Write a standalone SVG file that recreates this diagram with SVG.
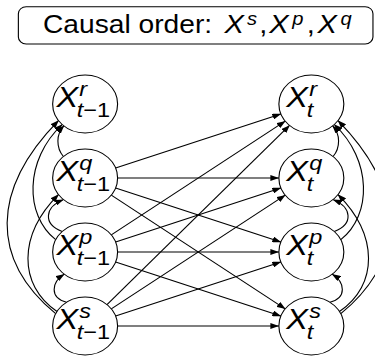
<svg xmlns="http://www.w3.org/2000/svg" width="375" height="358" viewBox="0 0 375 358">
<defs>
<marker id="ah" viewBox="0 0 8 6" refX="7.6" refY="3" markerWidth="8" markerHeight="6" markerUnits="userSpaceOnUse" orient="auto">
<path d="M0,0 L8,3 L0,6 z" fill="#000"/>
</marker>
<style>
.node circle { fill: #fff; stroke: #000; stroke-width: 1; }
.X { font-family: "Liberation Sans", Arial, sans-serif; font-style: italic; font-size: 29px; fill: #000; }
.s { font-family: "Liberation Sans", Arial, sans-serif; font-size: 21px; fill: #000; }
.i { font-style: italic; }
.edges path { fill: none; stroke: #000; stroke-width: 1; marker-end: url(#ah); }
.title { font-family: "Liberation Sans", Arial, sans-serif; font-size: 26px; fill: #000; }
.tsup { font-family: "Liberation Sans", Arial, sans-serif; font-size: 18px; font-style: italic; fill: #000; }
</style>
</defs>
<rect width="375" height="358" fill="#fff"/>
<g transform="scale(1.12,1)">
<g id="title">
<rect x="16.4" y="6.7" width="316.6" height="37.3" rx="7" ry="7" fill="#fff" stroke="#000" stroke-width="1"/>
<text class="title" x="38.4" y="33.5" textLength="151" lengthAdjust="spacingAndGlyphs">Causal order:</text>
<text class="title" x="200.5" y="33.5" font-style="italic">X</text>
<text class="tsup" x="220.5" y="25">s</text>
<text class="title" x="231.5" y="33.5">,</text>
<text class="title" x="240.5" y="33.5" font-style="italic">X</text>
<text class="tsup" x="261" y="25">p</text>
<text class="title" x="274" y="33.5">,</text>
<text class="title" x="283.5" y="33.5" font-style="italic">X</text>
<text class="tsup" x="304" y="25">q</text>
</g>
<g class="edges" id="connectors">
<path d="M103.23,168.03 L250.77,113.97"/>
<path d="M105,178 L249,178"/>
<path d="M103.23,187.97 L250.77,242.03"/>
<path d="M99.39,195.14 L254.61,308.86"/>
<path d="M99.39,234.86 L254.61,121.14"/>
<path d="M103.23,242.03 L250.77,187.97"/>
<path d="M105,252 L249,252"/>
<path d="M103.23,261.97 L250.77,316.03"/>
<path d="M95.52,304.55 L258.48,125.45"/>
<path d="M99.39,308.86 L254.61,195.14"/>
<path d="M103.23,316.03 L250.77,261.97"/>
<path d="M105,326 L249,326"/>
<path d="M56.6,156.5 C50,148 50,134 57,125.9"/>
<path d="M49.7,239.7 C21.8,215 21.8,160 55.5,124.5"/>
<path d="M49.7,313.7 C-8.5,260 -8.5,190 52.2,120.6"/>
<path d="M55.5,231.5 C38,224 40,207 56.6,199.6"/>
<path d="M50.9,311.5 C16.1,285 16.1,235 52.2,194.6"/>
<path d="M59.4,302.2 C44,298 46,282 57.4,274.2"/>
<path d="M297.4,156.5 C304,148 304,134 297,125.9"/>
<path d="M304.3,239.7 C332.2,215 332.2,160 298.5,124.5"/>
<path d="M304.3,313.7 C362.5,260 362.5,190 301.8,120.6"/>
<path d="M298.5,231.5 C316,224 314,207 297.4,199.6"/>
<path d="M303.1,311.5 C337.9,285 337.9,235 301.8,194.6"/>
<path d="M294.6,302.2 C310,298 308,282 296.6,274.2"/>
</g>
<g class="node" id="Lr"><circle cx="76" cy="104" r="29"/>
<text class="X" x="50.5" y="107.5">X</text><text class="s i" x="70.8" y="96.5">r</text><text class="s" x="68.5" y="117"><tspan class="i">t</tspan>−1</text></g>
<g class="node" id="Lq"><circle cx="76" cy="178" r="29"/>
<text class="X" x="50.5" y="181.5">X</text><text class="s i" x="70.8" y="170.5">q</text><text class="s" x="68.5" y="191"><tspan class="i">t</tspan>−1</text></g>
<g class="node" id="Lp"><circle cx="76" cy="252" r="29"/>
<text class="X" x="50.5" y="255.5">X</text><text class="s i" x="70.8" y="244.5">p</text><text class="s" x="68.5" y="265"><tspan class="i">t</tspan>−1</text></g>
<g class="node" id="Ls"><circle cx="76" cy="326" r="29"/>
<text class="X" x="50.5" y="329.5">X</text><text class="s i" x="70.8" y="318.5">s</text><text class="s" x="68.5" y="339"><tspan class="i">t</tspan>−1</text></g>
<g class="node" id="Rr"><circle cx="278" cy="104" r="29"/>
<text class="X" x="255.5" y="107.5">X</text><text class="s i" x="276.2" y="96.5">r</text><text class="s i" x="274" y="117">t</text></g>
<g class="node" id="Rq"><circle cx="278" cy="178" r="29"/>
<text class="X" x="255.5" y="181.5">X</text><text class="s i" x="276.2" y="170.5">q</text><text class="s i" x="274" y="191">t</text></g>
<g class="node" id="Rp"><circle cx="278" cy="252" r="29"/>
<text class="X" x="255.5" y="255.5">X</text><text class="s i" x="276.2" y="244.5">p</text><text class="s i" x="274" y="265">t</text></g>
<g class="node" id="Rs"><circle cx="278" cy="326" r="29"/>
<text class="X" x="255.5" y="329.5">X</text><text class="s i" x="276.2" y="318.5">s</text><text class="s i" x="274" y="339">t</text></g>
</g>
</svg>
